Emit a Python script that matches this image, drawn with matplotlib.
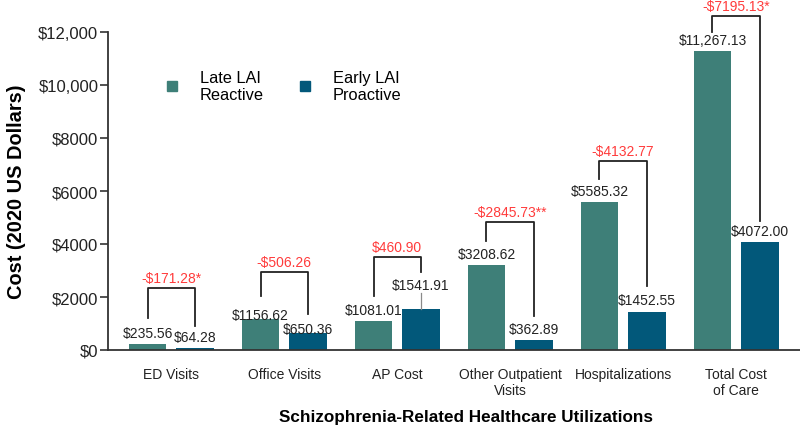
import matplotlib
matplotlib.use("Agg")
import matplotlib.pyplot as plt
from matplotlib.lines import Line2D
import numpy as np

plt.rcParams['font.family'] = ['Liberation Sans', 'DejaVu Sans']

categories = ["ED Visits", "Office Visits", "AP Cost", "Other Outpatient\nVisits",
              "Hospitalizations", "Total Cost\nof Care"]
late_reactive = [235.56, 1156.62, 1081.01, 3208.62, 5585.32, 11267.13]
early_proactive = [64.28, 650.36, 1541.91, 362.89, 1452.55, 4072.00]
late_labels = ["$235.56", "$1156.62", "$1081.01", "$3208.62", "$5585.32", "$11,267.13"]
early_labels = ["$64.28", "$650.36", "$1541.91", "$362.89", "$1452.55", "$4072.00"]
diff_labels = ["-$171.28*", "-$506.26", "$460.90", "-$2845.73**", "-$4132.77", "-$7195.13*"]
yticks = [0, 2000, 4000, 6000, 8000, 10000, 12000]
ytick_labels = ["$0", "$2000", "$4000", "$6000", "$8000", "$10,000", "$12,000"]

# layout (annotation placement, not data)
bracket_top = [2340, 2943, 3509, 4830, 7132, 12600]
leg_gap = [(970, 840), (880, 710), (960, 0), (900, 920), (870, 960), (730, 800)]
late_lab_off = [3, -2, 3, 3, 3, 3]
early_lab_off = [3, -2, 12, 3, 3, 3]

c_late = "#3e7f78"
c_early = "#02587a"
red = "#ff3b3b"

fig = plt.figure(figsize=(8, 4.27), dpi=100)
ax = fig.add_axes([108/800, 1-351/427, 692/800, 318/427])

x = np.arange(len(categories))
w = 0.335
off = 0.21
ax.bar(x - off, late_reactive, w, color=c_late, zorder=2)
ax.bar(x + off, early_proactive, w, color=c_early, zorder=2)

for i in range(len(categories)):
    ax.annotate(late_labels[i], (x[i]-off, late_reactive[i]), xytext=(0, late_lab_off[i]),
                textcoords="offset points", ha="center", va="bottom", fontsize=10, color="#222222")
    ax.annotate(early_labels[i], (x[i]+off, early_proactive[i]), xytext=(0, early_lab_off[i]),
                textcoords="offset points", ha="center", va="bottom", fontsize=10, color="#222222")
    lb = late_reactive[i] + leg_gap[i][0]
    top = bracket_top[i]
    if i == 2:
        rb = top - 566
        ax.plot([x[i]+off, x[i]+off], [early_proactive[i], early_proactive[i] + 600],
                color="#8a8a8a", lw=0.9, zorder=3)
    else:
        rb = early_proactive[i] + leg_gap[i][1]
    ax.plot([x[i]-off, x[i]-off, x[i]+off, x[i]+off], [lb, top, top, rb],
            color="#222222", lw=1.3, clip_on=False, zorder=3)
    ax.annotate(diff_labels[i], (x[i], top), xytext=(0, 2.5), textcoords="offset points",
                ha="center", va="bottom", fontsize=10, color=red, annotation_clip=False)

ax.set_xlim(-0.56, 5.565)
ax.set_ylim(0, 12000)
ax.set_yticks(yticks)
ax.set_yticklabels(ytick_labels, fontsize=12, color="#222222")
ax.set_xticks(x)
ax.set_xticklabels(categories, fontsize=10, color="#222222", linespacing=1.2)
ax.tick_params(axis="x", length=0, pad=12)
ax.tick_params(axis="y", length=6, width=1.2, color="#333333", pad=1)
for s in ["top", "right"]:
    ax.spines[s].set_visible(False)
for s in ["left", "bottom"]:
    ax.spines[s].set_color("#333333")
    ax.spines[s].set_linewidth(1.3)

ax.set_ylabel("Cost (2020 US Dollars)", fontsize=14.4, fontweight="bold")
ax.yaxis.set_label_coords((26-108)/692, (351-192)/318)
ax.set_xlabel("Schizophrenia-Related Healthcare Utilizations", fontsize=12.3, fontweight="bold")
ax.xaxis.set_label_coords((466-108)/692, (351-410)/318)

handles = [Line2D([], [], marker="s", ls="none", color=c_late, markersize=7),
           Line2D([], [], marker="s", ls="none", color=c_early, markersize=7)]
ax.legend(handles, ["Late LAI\nReactive", "Early LAI\nProactive"], ncol=2, frameon=False,
          loc="center left", bbox_to_anchor=((164-108)/692, (351-87)/318),
          borderpad=0, borderaxespad=0, handlelength=1.0, handletextpad=1.2,
          columnspacing=2.0, fontsize=11.8, labelspacing=0)

fig.savefig("out.png", dpi=100)
